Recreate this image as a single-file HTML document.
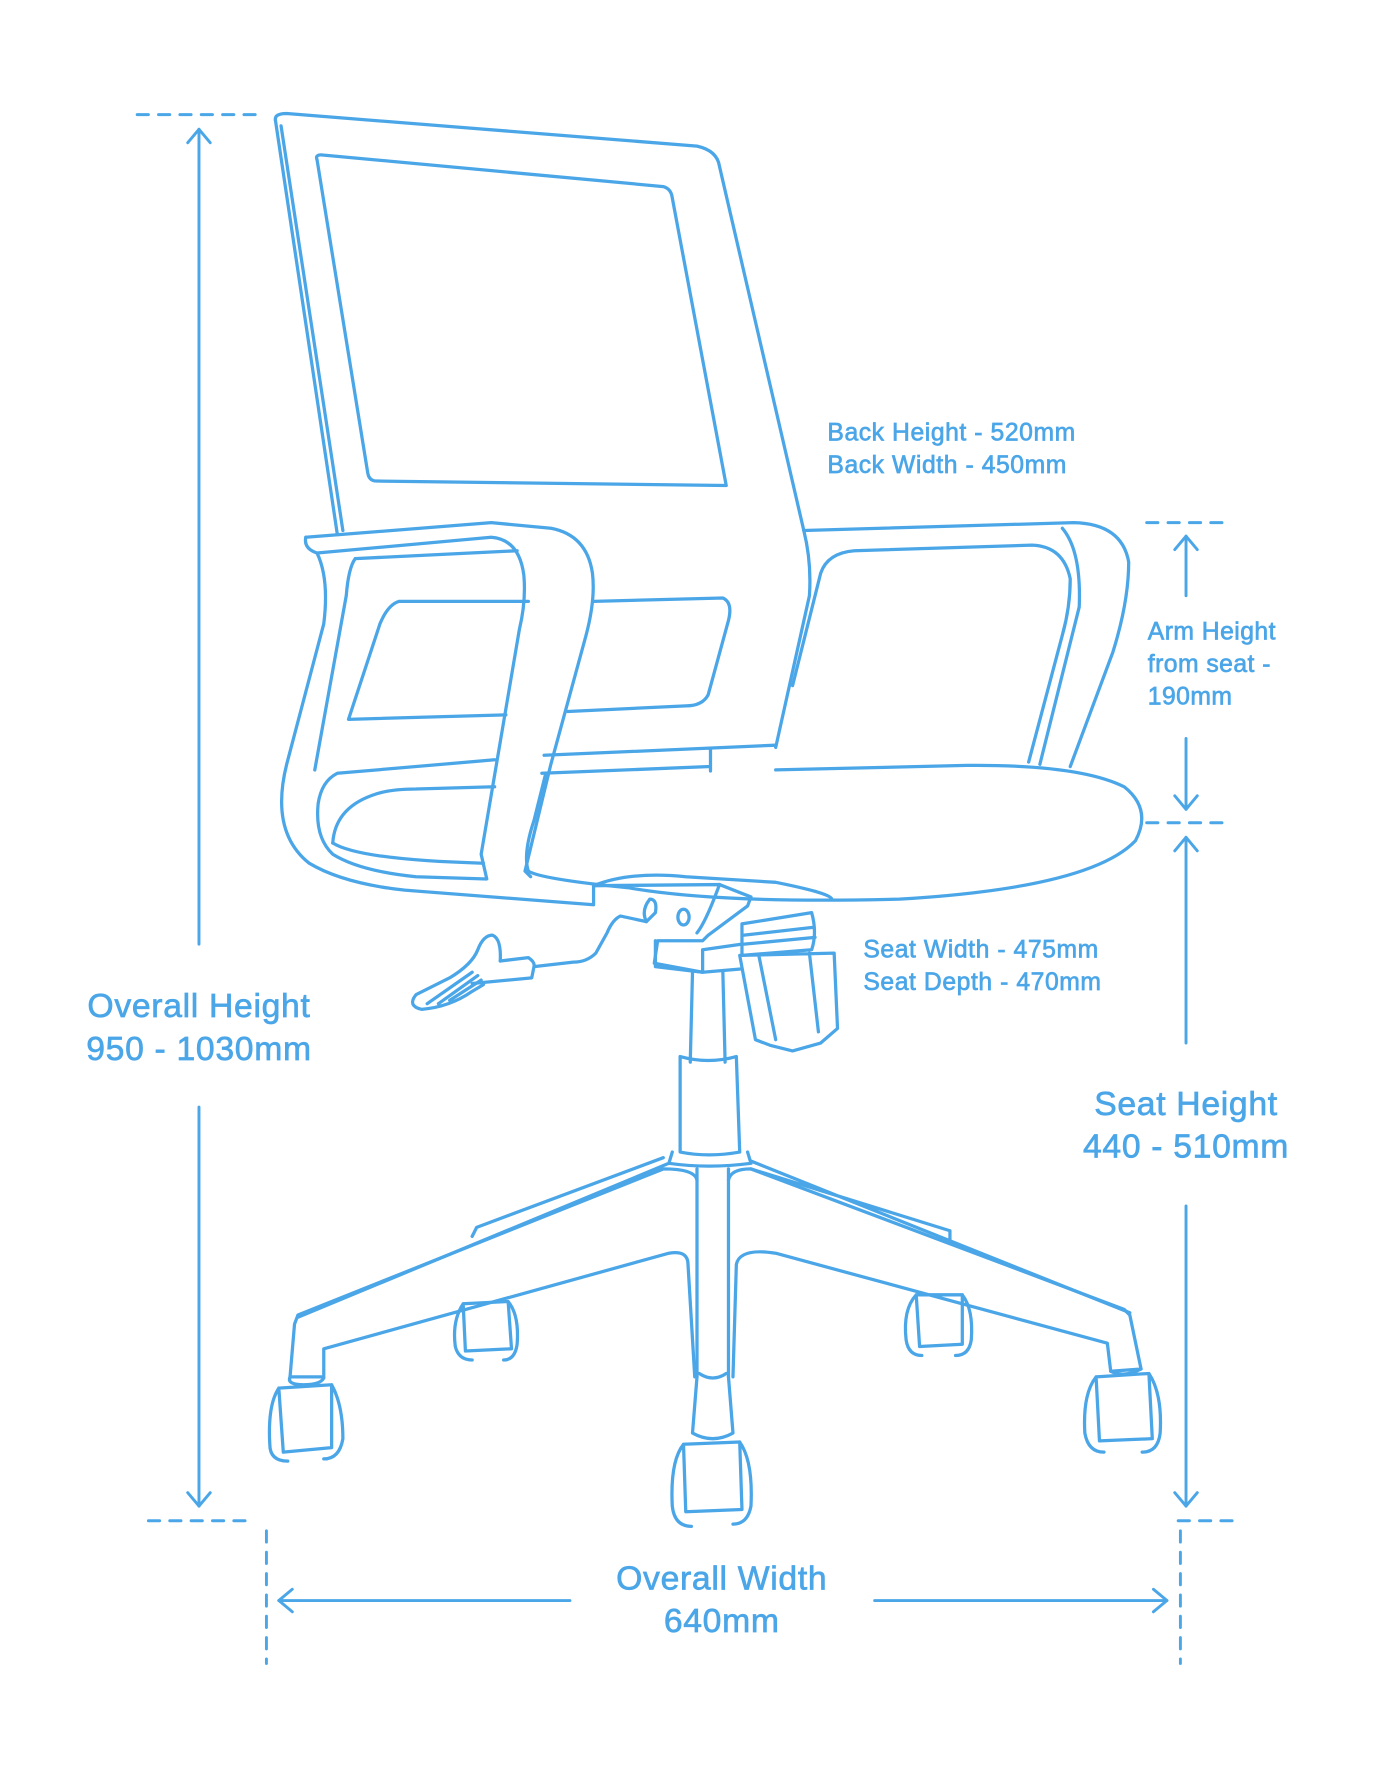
<!DOCTYPE html>
<html><head><meta charset="utf-8"><style>
html,body{margin:0;padding:0;background:#fff;}
svg{display:block;}
text{font-family:"Liberation Sans",sans-serif;fill:#4ba6e8;}
</style></head><body>
<svg width="1394" height="1768" viewBox="0 0 1240 1573" preserveAspectRatio="none" xmlns="http://www.w3.org/2000/svg">
<g fill="none" stroke="#4ba6e8" stroke-width="2.9" stroke-linecap="round" stroke-linejoin="round">
<!-- dimension lines -->
<g stroke-width="2.6">
<path d="M122,102 H235" stroke-dasharray="10,9"/>
<path d="M132,1353 H225" stroke-dasharray="10,9"/>
<path d="M177,115 V840 M177,985 V1340"/>
<path d="M167,127 L177,115 L187,127 M167,1328 L177,1340 L187,1328"/>
<path d="M1020,465 H1092" stroke-dasharray="10,9"/>
<path d="M1020,732 H1092" stroke-dasharray="10,9"/>
<path d="M1048,1353 H1105" stroke-dasharray="10,9"/>
<path d="M1055,477 V530 M1055,657 V720 M1055,745 V928 M1055,1073 V1340"/>
<path d="M1045,489 L1055,477 L1065,489 M1045,708 L1055,720 L1065,708 M1045,757 L1055,745 L1065,757 M1045,1328 L1055,1340 L1065,1328"/>
<path d="M237,1362 V1480 M1050,1362 V1480" stroke-dasharray="10,9"/>
<path d="M248,1424 H507 M778,1424 H1038"/>
<path d="M260,1414 L248,1424 L260,1434 M1026,1414 L1038,1424 L1026,1434"/>
</g>
<!-- backrest -->
<path d="M245,107 Q244,101 255,101 L620,130 Q638,134 640,148 L715,472"/>
<path d="M245,107 L300,475 M250,112 L305,472"/>
<path d="M282,142 Q280,137 288,138 L590,166 Q597,168 598,176 L646,432 L335,428 Q328,428 327,420 Z"/>
<path d="M715,472 Q722,500 720,530 L690,665"/>
<path d="M528,535 L643,532 Q652,536 648,552 L630,618 Q625,628 610,628 L505,633"/>
<path d="M470,535 L355,535 Q345,538 338,555 L310,640 L450,636"/>
<path d="M484,672 L690,663 M482,688 L632,682 M632,667 V686"/>
<!-- left arm -->
<path d="M272,478 Q270,488 282,492 Q293,515 288,555 L255,680 Q240,740 275,768 Q305,786 360,792 L528,805 V788"/>
<path d="M282,492 L437,478 Q462,480 466,512 Q468,535 462,560 L428,760 L433,782 L370,780 Q320,775 296,760 Q280,745 283,715 Q286,695 300,688 L440,676"/>
<path d="M272,478 L437,465 L490,470 Q522,476 527,510 Q530,535 520,570 L490,680 L467,775 L472,780"/>
<path d="M316,497 L460,490 M316,497 Q310,505 308,530 L280,685"/>
<path d="M296,750 Q298,720 330,708 Q345,702 370,702 L440,700"/>
<path d="M296,750 Q320,765 430,768"/>
<!-- right arm -->
<path d="M715,472 L955,465 Q998,466 1004,500 Q1004,535 990,580 L952,682"/>
<path d="M945,470 Q962,490 960,540 L925,680"/>
<path d="M705,610 L730,510 Q736,492 760,490 L918,485 Q946,486 952,515 Q952,540 945,565 L915,678"/>
<!-- seat -->
<path d="M690,685 L860,681 Q960,680 1000,700 Q1025,720 1010,748 Q970,790 800,800 Q640,804 560,790 Q480,782 470,775 Q465,760 475,730 L485,690"/>
<path d="M528,788 Q560,775 610,780 L690,785 Q740,795 740,800"/>
<!-- mechanism -->
<path d="M528,788 L640,787 L668,798 L665,806 L630,832 L625,837 L585,837 L582,857 L625,865 L660,862"/>
<path d="M640,787 Q628,820 620,830 M578,800 Q570,810 575,820 L583,812 Q585,800 578,800 Z"/>
<ellipse cx="608" cy="816" rx="5" ry="7"/>
<path d="M575,820 L552,815 Q545,818 540,830 L530,848 Q522,856 510,856 L475,860 L473,870 L420,875 M475,860 Q476,856 470,852 L445,855"/>
<path d="M445,855 Q446,835 438,832 Q430,832 425,845 Q420,858 400,870 L370,885 Q362,895 375,898 Q400,896 420,882 L430,876 M380,893 L420,865 M390,893 L425,868 M400,890 L428,872"/>
<path d="M583,837 V860 L625,865 V845 M625,845 L660,840"/>
<path d="M660,822 L722,812 Q727,830 722,845 L660,850 Z M662,832 L724,825 M662,840 L725,834"/>
<path d="M658,850 L742,848 L745,915 L730,928 L705,935 L685,930 L672,925 Z M675,850 L690,925 M720,848 L728,918"/>
<!-- column -->
<path d="M616,865 L614,945 M643,865 L645,945"/>
<path d="M605,940 Q630,947 655,940 L658,1025 Q630,1030 605,1025 Z"/>
<path d="M598,1025 L595,1035 Q630,1040 668,1035 L665,1025"/>
<!-- base -->
<path d="M620,1040 V1225 M648,1040 V1225"/>
<path d="M620,1050 Q618,1040 590,1040 L265,1170 L262,1178 L258,1225 L288,1225 L288,1200 L595,1115 Q612,1112 612,1125 L618,1225"/>
<path d="M595,1035 L265,1172 M420,1100 L424,1092 L590,1030"/>
<path d="M648,1050 Q650,1040 668,1040 L1000,1165 L1005,1170 L1015,1218 L988,1220 L985,1195 L690,1115 Q658,1110 655,1125 L652,1225"/>
<path d="M668,1033 L1005,1168 M845,1095 L845,1103 M668,1040 L845,1095"/>
<path d="M620,1225 L616,1275 Q634,1285 652,1275 L648,1225 M622,1222 Q634,1230 646,1222"/>
<!-- casters -->
<path d="M258,1225 Q255,1232 270,1232 Q285,1232 288,1226"/>
<path d="M248,1235 L295,1232 L295,1288 L252,1292 Z M248,1235 Q238,1250 240,1285 Q240,1300 256,1300 M295,1232 Q305,1250 305,1280 Q302,1298 288,1298"/>
<path d="M412,1160 L452,1158 L455,1200 L414,1202 Z M412,1160 Q402,1175 405,1198 Q408,1210 420,1210 M452,1158 Q462,1170 460,1196 Q458,1210 448,1210"/>
<path d="M608,1285 L658,1283 L660,1343 L610,1345 Z M608,1285 Q596,1300 598,1340 Q600,1358 615,1358 M658,1283 Q670,1300 668,1340 Q665,1356 652,1356"/>
<path d="M988,1220 Q1000,1226 1015,1218"/>
<path d="M975,1225 L1022,1222 L1025,1280 L978,1282 Z M975,1225 Q963,1240 965,1275 Q968,1292 982,1292 M1022,1222 Q1034,1240 1032,1275 Q1030,1292 1016,1292"/>
<path d="M815,1152 L856,1152 L856,1196 L818,1198 Z M815,1152 Q803,1165 806,1192 Q808,1206 820,1206 M856,1152 Q866,1165 864,1192 Q862,1206 850,1206"/>
</g>
<g stroke="#4ba6e8" stroke-width="0.6">
<text x="177" y="905" font-size="30" text-anchor="middle" letter-spacing="0.6">Overall Height</text>
<text x="177" y="943" font-size="30" text-anchor="middle" letter-spacing="0.6">950 - 1030mm</text>
<text x="642" y="1414" font-size="30" text-anchor="middle" letter-spacing="0.6">Overall Width</text>
<text x="642" y="1452" font-size="30" text-anchor="middle" letter-spacing="0.6">640mm</text>
<text x="1055" y="992" font-size="30" text-anchor="middle" letter-spacing="0.6">Seat Height</text>
<text x="1055" y="1030" font-size="30" text-anchor="middle" letter-spacing="0.6">440 - 510mm</text>
<text x="1021" y="569" font-size="22" letter-spacing="0.4">Arm Height</text>
<text x="1021" y="598" font-size="22" letter-spacing="0.4">from seat -</text>
<text x="1021" y="627" font-size="22" letter-spacing="0.4">190mm</text>
<text x="736" y="392" font-size="22" letter-spacing="0.5">Back Height - 520mm</text>
<text x="736" y="421" font-size="22" letter-spacing="0.5">Back Width - 450mm</text>
<text x="768" y="852" font-size="22" letter-spacing="0.5">Seat Width - 475mm</text>
<text x="768" y="881" font-size="22" letter-spacing="0.5">Seat Depth - 470mm</text>
</g>
</svg>
</body></html>
